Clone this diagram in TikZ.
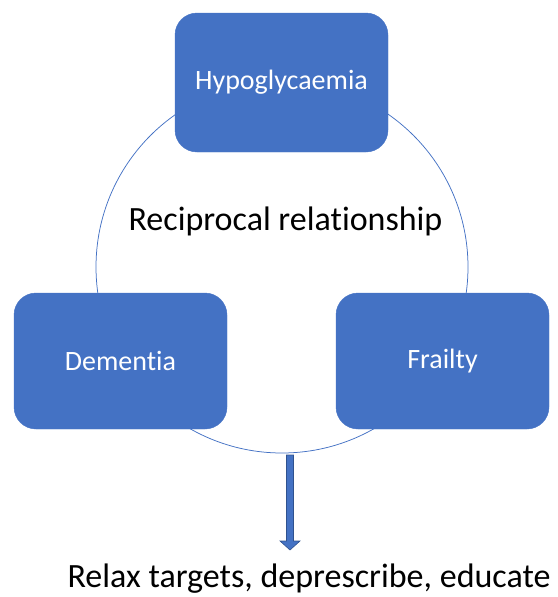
\documentclass[tikz,border=0pt]{standalone}
\usepackage{fontspec}
\setmainfont[Ligatures=NoCommon]{Carlito}
\definecolor{offblue}{HTML}{4472C4}
\definecolor{darkblue}{HTML}{2F528F}
\begin{document}
\begin{tikzpicture}[x=1pt,y=-1pt,
  boxnode/.style={draw=offblue, fill=offblue, rounded corners=22pt, text=white,
    font=\fontsize{28}{32}\selectfont, inner sep=0pt},
  plainlabel/.style={font=\fontsize{34}{40}\selectfont, text=black, inner sep=0pt}]
\useasboundingbox (0,0) rectangle (557,597);
\draw[offblue, line width=0.75pt] (282,267) circle (186);
\node[boxnode, minimum width=213pt, minimum height=139pt] (hypo) at (281.5,82.5) {Hypoglycaemia};
\node[boxnode, minimum width=213pt, minimum height=136pt] (dem) at (120.5,361) {Dementia};
\node[boxnode, minimum width=213pt, minimum height=136pt] (frail) at (442.5,361) {Frailty};
\node[plainlabel] (recip) at (285.5,221) {Reciprocal relationship};
\node[plainlabel] (relax) at (309,579) {Relax targets, deprescribe, educate};
\coordinate (cb) at (290,455);
\coordinate (tip) at (290,550);
\fill[offblue, draw=darkblue, line width=0.6pt]
  ([xshift=-3.5pt]cb) -- ([xshift=3.5pt]cb) -- ([xshift=3.5pt,yshift=9pt]tip)
  -- ([xshift=10pt,yshift=9pt]tip) -- (tip) -- ([xshift=-10pt,yshift=9pt]tip)
  -- ([xshift=-3.5pt,yshift=9pt]tip) -- cycle;
\end{tikzpicture}
\end{document}
